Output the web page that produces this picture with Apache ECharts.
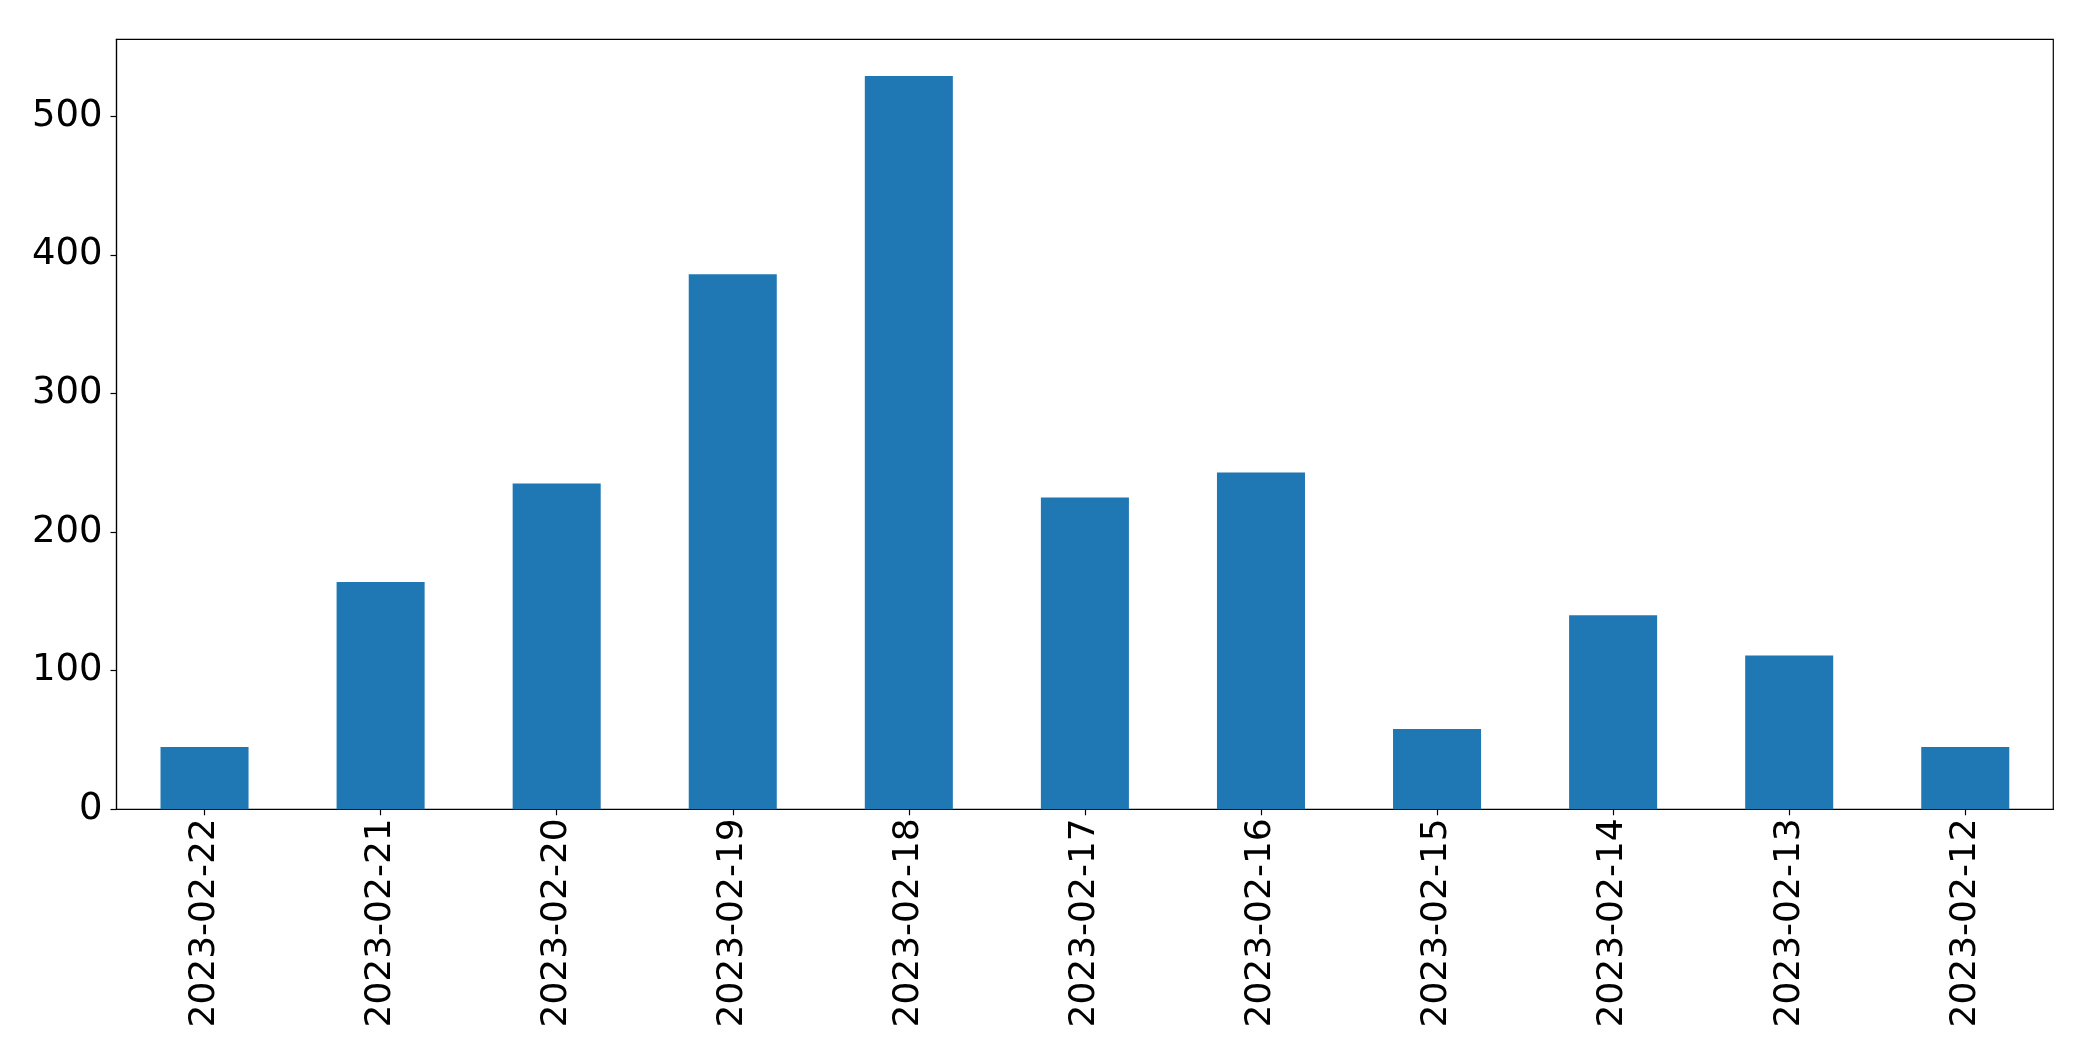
<!DOCTYPE html>
<html>
<head>
<meta charset="utf-8">
<script src="https://cdn.jsdelivr.net/npm/echarts@6/dist/echarts.min.js"></script>
<style>
html,body{margin:0;padding:0;background:#fff;}
#chart{width:2093px;height:1061px;}
</style>
</head>
<body>
<div id="chart"></div>
<script>
const categories = ["2023-02-22","2023-02-21","2023-02-20","2023-02-19","2023-02-18","2023-02-17","2023-02-16","2023-02-15","2023-02-14","2023-02-13","2023-02-12"];
const values = [45, 164, 235, 386, 529, 225, 243, 58, 140, 111, 45];
const yTicks = [0, 100, 200, 300, 400, 500];
const yMax = 555.5;

const chart = echarts.init(document.getElementById('chart'), null, {renderer: 'canvas'});
const font = 'DejaVu Sans';
chart.setOption({
  animation: false,
  backgroundColor: '#ffffff',
  grid: {
    left: 116.5, right: 39.7, top: 39.3, bottom: 251.7,
    show: true, borderColor: '#000', borderWidth: 1.2, backgroundColor: 'transparent'
  },
  xAxis: {
    type: 'category',
    data: categories,
    boundaryGap: true,
    axisLine: {show: true, lineStyle: {color: '#000', width: 1.2}},
    axisTick: {show: true, alignWithLabel: true, length: 6, lineStyle: {color: '#000', width: 1.2}},
    axisLabel: {rotate: 90, margin: 9, color: '#000', fontFamily: font, fontSize: 36, interval: 0},
    splitLine: {show: false}
  },
  yAxis: {
    type: 'value',
    min: 0, max: yMax, interval: 100,
    axisLine: {show: true, lineStyle: {color: '#000', width: 1.2}},
    axisTick: {show: true, length: 6, lineStyle: {color: '#000', width: 1.2}, customValues: yTicks},
    axisLabel: {margin: 14, color: '#000', fontFamily: font, fontSize: 37, customValues: yTicks},
    splitLine: {show: false}
  },
  series: [{
    type: 'bar',
    data: values,
    barWidth: '50%',
    itemStyle: {color: '#1f77b4'}
  }]
});
</script>
</body>
</html>
